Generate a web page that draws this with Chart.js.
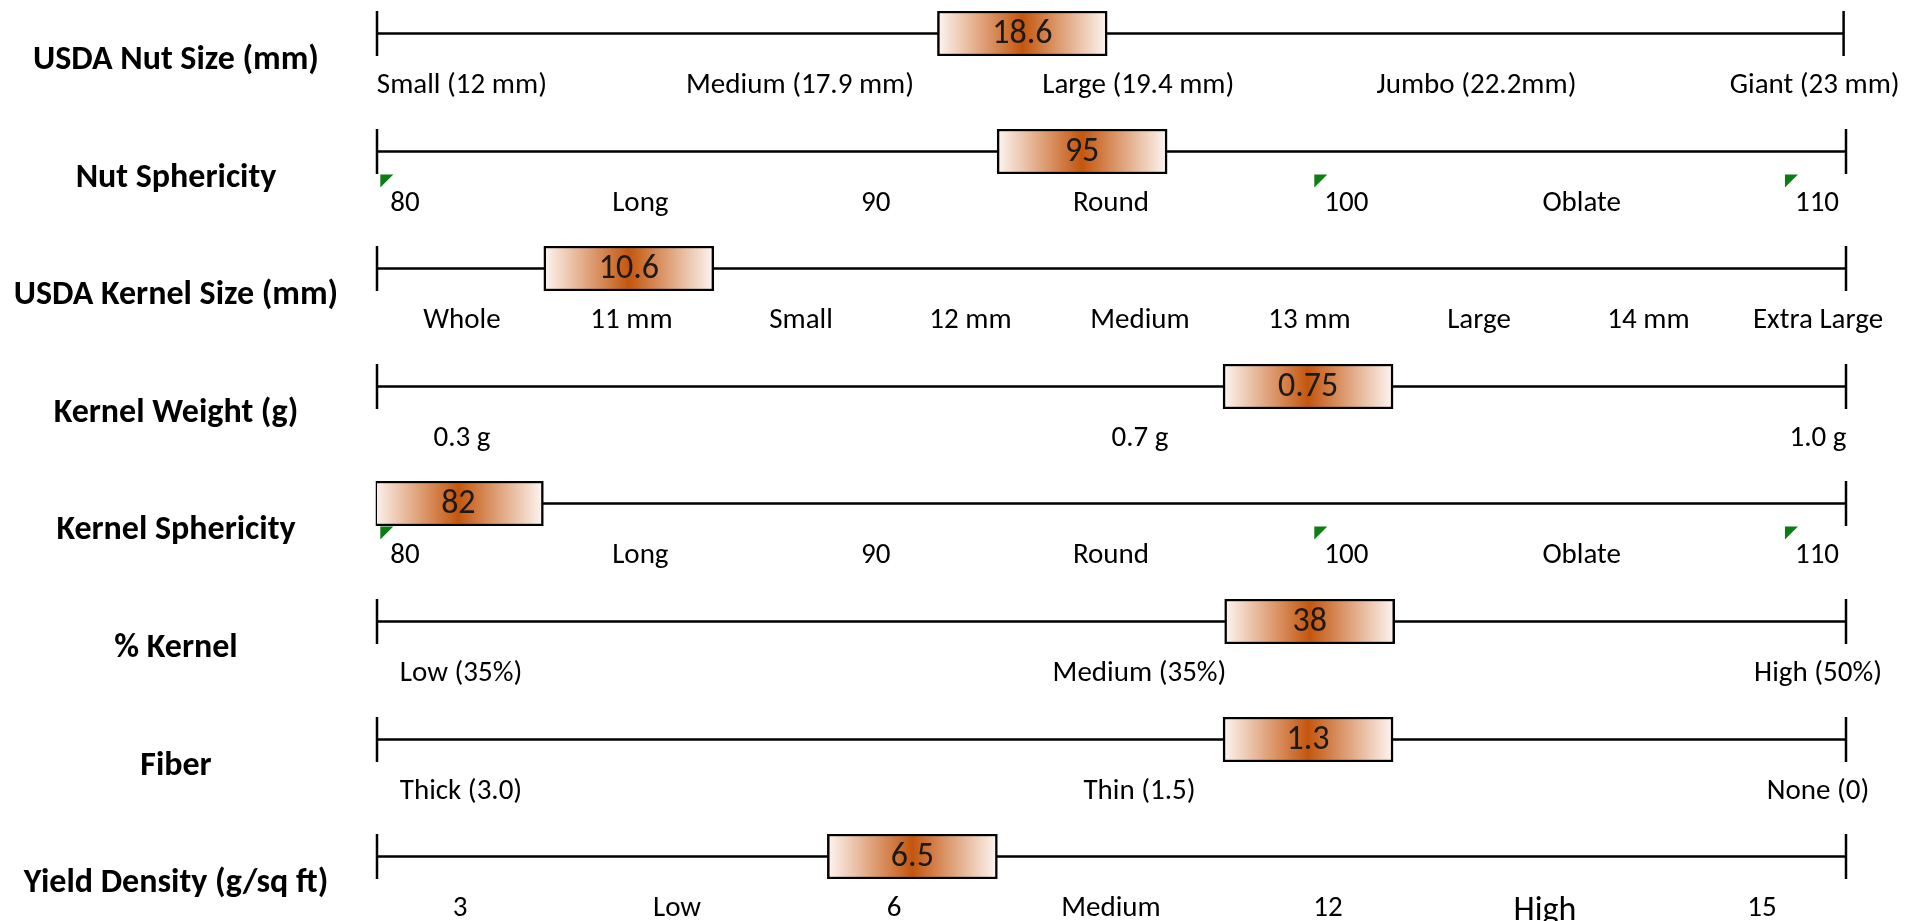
<!DOCTYPE html>
<html lang="en">

<head>
  <meta charset="UTF-8">
  <meta name="viewport" content="width=device-width, initial-scale=1.0">
  <script src="https://cdn.jsdelivr.net/npm/chart.js"></script>
  <title>Nut quality</title>
  <style>
    html, body { margin: 0; padding: 0; background: #fff; overflow: hidden; }
    #painel { position: relative; width: 1913px; height: 921px; overflow: hidden; }
    .linha { position: absolute; left: 0; width: 1913px; height: 118px; }
  </style>
</head>

<body>
  <div id="painel"></div>

<script>
  // ---- dados ----
  const titulos = ['USDA Nut Size (mm)', 'Nut Sphericity', 'USDA Kernel Size (mm)', 'Kernel Weight (g)',
    'Kernel Sphericity', '% Kernel', 'Fiber', 'Yield Density (g/sq ft)'];

  const valores = [18.6, 95, 10.6, 0.75, 82, 38, 1.3, 6.5];

  const rotulos = [
    ['Small (12 mm)', 'Medium (17.9 mm)', 'Large (19.4 mm)', 'Jumbo (22.2mm)', 'Giant (23 mm)'],
    ['80', 'Long', '90', 'Round', '100', 'Oblate', '110'],
    ['Whole', '11 mm', 'Small', '12 mm', 'Medium', '13 mm', 'Large', '14 mm', 'Extra Large'],
    ['0.3 g', '0.7 g', '1.0 g'],
    ['80', 'Long', '90', 'Round', '100', 'Oblate', '110'],
    ['Low (35%)', 'Medium (35%)', 'High (50%)'],
    ['Thick (3.0)', 'Thin (1.5)', 'None (0)'],
    ['3', 'Low', '6', 'Medium', '12', 'High', '15']
  ];

  // ends of each scale line
  const escalaMin = [12, 79.4, 10, 0.3, 80.2, 30, 0, 2.4];
  const escalaMax = [27, 111.9, 13.5, 1.01, 112.7, 42.6, 3.55, 13.65];
  const invertida = [false, false, false, false, false, false, true, false];

  // ---- layout ----
  const FONTE = 'Carlito, Calibri, Lato, sans-serif';
  const LARGURA = 1913;
  const AREA_ESQ = 377, AREA_DIR = 1846;
  const PASSO_LINHA = 117.6;
  const ALTURA = 118;
  const TOPO = 11, ALT_CAIXA = 45;
  const CAIXA_LARG = 170;
  // distance (px) from line ends to first / last label centre
  const insetRotulos = [[85, 29], [28, 29], [85, 28], [85, 28], [28, 29], [84, 28], [84, 28], [83, 84]];
  // small green corner marks (like the spreadsheet shows) on some labels
  const marcasVerdes = [[], [0, 4, 6], [], [], [0, 4, 6], [], [], []];
  const rotuloMaior = [[], [], [], [], [], [], [], [5]];

  const painel = document.getElementById('painel');

  function criarLinha(i) {
    const div = document.createElement('div');
    div.className = 'linha';
    div.style.top = Math.round(i * PASSO_LINHA) + 'px';
    const canvas = document.createElement('canvas');
    div.appendChild(canvas);
    painel.appendChild(div);

    const larg = AREA_DIR - AREA_ESQ;
    const meia = CAIXA_LARG / 2 / larg * (escalaMax[i] - escalaMin[i]);
    const n = rotulos[i].length;
    const passo = (larg - insetRotulos[i][0] - insetRotulos[i][1]) / (n - 1);

    // line with end caps
    const linhaBase = {
      id: 'linhaBase',
      beforeDatasetsDraw(chart) {
        const { ctx, chartArea: a } = chart;
        const meio = (a.top + a.bottom) / 2;
        ctx.save();
        ctx.strokeStyle = '#000';
        ctx.lineWidth = 2.5;
        ctx.beginPath();
        ctx.moveTo(a.left, meio); ctx.lineTo(a.right, meio);
        ctx.moveTo(a.left, a.top); ctx.lineTo(a.left, a.bottom);
        ctx.moveTo(a.right, a.top); ctx.lineTo(a.right, a.bottom);
        ctx.stroke();
        ctx.restore();
      }
    };

    // value inside the box + row title + green marks
    const textos = {
      id: 'textos',
      afterDatasetsDraw(chart) {
        const { ctx, chartArea: a } = chart;
        const meio = (a.top + a.bottom) / 2;
        const el = chart.getDatasetMeta(0).data[0];
        const c = el.getCenterPoint();
        ctx.save();
        ctx.fillStyle = '#1a1a1a';
        ctx.textAlign = 'center';
        ctx.textBaseline = 'middle';
        ctx.font = '34px ' + FONTE;
        ctx.fillText(String(valores[i]), c.x, c.y + 1);

        ctx.fillStyle = '#000';
        ctx.font = 'bold 34px ' + FONTE;
        ctx.fillText(titulos[i], 176, meio + 27);

        const x2 = chart.scales.x2;
        ctx.font = '29px ' + FONTE;
        ctx.fillStyle = '#0b7d12';
        marcasVerdes[i].forEach(k => {
          const w = ctx.measureText(rotulos[i][k]).width;
          const x = x2.getPixelForValue(k) - w / 2 - 10;
          const y = meio + 23;
          ctx.beginPath();
          ctx.moveTo(x, y); ctx.lineTo(x + 13, y); ctx.lineTo(x, y + 13);
          ctx.closePath();
          ctx.fill();
        });
        ctx.restore();
      }
    };

    new Chart(canvas, {
      type: 'bar',
      data: {
        labels: [titulos[i]],
        datasets: [{
          data: [[valores[i] - meia, valores[i] + meia]],
          backgroundColor: (c) => {
            const ch = c.chart;
            if (!ch.chartArea) return '#dc9a6c';
            const xs = ch.scales.x;
            const x0 = xs.getPixelForValue(valores[i] - meia);
            const x1 = xs.getPixelForValue(valores[i] + meia);
            const g = ch.ctx.createLinearGradient(x0, 0, x1, 0);
            g.addColorStop(0, '#fdf6f2');
            g.addColorStop(0.5, '#c4560e');
            g.addColorStop(1, '#fdf6f2');
            return g;
          },
          borderColor: '#000',
          borderWidth: 2.5,
          borderSkipped: false,
          barPercentage: 1,
          categoryPercentage: 1,
          xAxisID: 'x'
        }]
      },
      options: {
        indexAxis: 'y',
        responsive: true,
        maintainAspectRatio: false,
        animation: false,
        layout: { padding: { left: AREA_ESQ, right: LARGURA - AREA_DIR, top: TOPO, bottom: 0 } },
        plugins: { legend: { display: false }, tooltip: { enabled: false } },
        scales: {
          x: { type: 'linear', min: escalaMin[i], max: escalaMax[i], reverse: invertida[i], display: false },
          x2: {
            type: 'linear',
            position: 'bottom',
            min: -insetRotulos[i][0] / passo,
            max: (n - 1) + insetRotulos[i][1] / passo,
            grid: { display: false, drawTicks: false },
            border: { display: false },
            afterBuildTicks: (s) => { s.ticks = rotulos[i].map((_, k) => ({ value: k })); },
            afterFit: (s) => { s.height = ALTURA - TOPO - ALT_CAIXA; },
            ticks: {
              autoSkip: false,
              maxRotation: 0,
              padding: 12,
              color: '#000',
              font: (c) => ({ family: FONTE, size: rotuloMaior[i].includes(c.index) ? 34 : 29 }),
              callback: (v, k) => rotulos[i][k]
            }
          },
          y: { display: false }
        }
      },
      plugins: [linhaBase, textos]
    });
  }

  for (let i = 0; i < titulos.length; i++) criarLinha(i);
</script>
</body>

</html>
